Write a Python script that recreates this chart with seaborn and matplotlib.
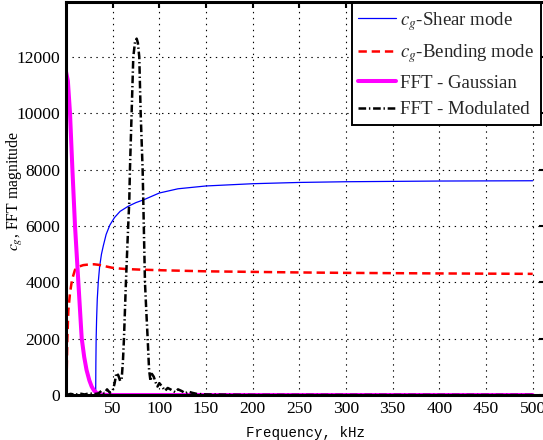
import matplotlib
matplotlib.use("Agg")
import matplotlib.pyplot as plt
import seaborn as sns

# ---- data ----
shear_f = [0, 31.8, 32.0, 32.3, 32.8, 33.5, 34.6, 36, 38, 40, 43, 47, 52, 58, 66.7,
           75, 82.8, 100, 120, 150, 200, 250, 300, 400, 500]
shear_cg = [0, 0, 1100, 2000, 2700, 3400, 4020, 4550, 5000, 5300, 5700, 6035, 6300,
            6520, 6700, 6830, 6923, 7170, 7320, 7420, 7500, 7545, 7570, 7595, 7605]

bend_f = [0, 0.5, 1.4, 2.5, 4.3, 6.5, 9.6, 13, 18.5, 25, 30, 35, 42, 49, 57, 65, 80,
          100, 125, 150, 200, 250, 300, 400, 500]
bend_cg = [0, 300, 1950, 3000, 3620, 4100, 4440, 4550, 4610, 4635, 4640, 4620, 4570,
           4520, 4490, 4470, 4450, 4430, 4410, 4390, 4370, 4350, 4335, 4315, 4300]

gauss_f = [0, 2, 4.3, 6.8, 9.6, 13.2, 16.8, 19.5, 22, 25, 27.5, 30, 33, 37, 45, 60,
           100, 200, 300, 400, 500]
gauss_mag = [11480, 11150, 10000, 8050, 6035, 4020, 2020, 1350, 890, 520, 300, 160, 70,
             20, 0, 0, 0, 0, 0, 0, 0]

mod_f = [0, 5, 10, 15, 20, 25, 30, 35, 38, 41, 44, 47, 50, 52, 54, 56, 58, 59.6, 61,
         62.1, 64.2, 66, 67.8, 68.5, 70.3, 72.1, 74, 75.7, 77, 78.5, 80, 82.1, 82.8,
         84.6, 86, 87.5, 89, 90.5, 92, 94, 96, 98, 100, 103, 106, 109, 113, 117, 120,
         124, 128, 131, 135, 140, 150, 170, 200, 300, 500]
mod_mag = [0, 40, 10, 50, 20, 60, 30, 60, 150, 60, 200, 80, 150, 400, 780, 700, 500,
           550, 1200, 2000, 4000, 5500, 6900, 8000, 10000, 12000, 12550, 12650, 12500,
           12000, 10000, 8000, 6900, 4000, 3000, 2000, 900, 500, 750, 650, 450, 300,
           420, 300, 150, 250, 180, 100, 200, 140, 60, 120, 80, 40, 20, 10, 0, 0, 0]

x_ticks = [50, 100, 150, 200, 250, 300, 350, 400, 450, 500]
y_ticks = [0, 2000, 4000, 6000, 8000, 10000, 12000]
legend_labels = ["$c_g$-Shear mode", "$c_g$-Bending mode", "FFT - Gaussian",
                 "FFT - Modulated"]

# ---- styling ----
sns.set_theme(style="white")
plt.rcParams['font.family'] = ['Liberation Serif', 'DejaVu Serif']
plt.rcParams['mathtext.fontset'] = 'stix'
plt.rcParams['lines.scale_dashes'] = False

W, H = 543, 440
fig = plt.figure(figsize=(W / 100, H / 100), dpi=100)
ax = fig.add_axes([66 / W, 45 / H, 479 / W, 393 / H])

sns.lineplot(x=shear_f, y=shear_cg, ax=ax, color=(0, 0, 1), linewidth=0.9,
             sort=False, estimator=None)
sns.lineplot(x=bend_f, y=bend_cg, ax=ax, color=(1, 0, 0), linewidth=1.8,
             sort=False, estimator=None)
ax.lines[-1].set_dashes([6.0, 3.5])
sns.lineplot(x=gauss_f, y=gauss_mag, ax=ax, color=(1, 0, 1), linewidth=2.9,
             sort=False, estimator=None)
sns.lineplot(x=mod_f, y=mod_mag, ax=ax, color='black', linewidth=1.8,
             sort=False, estimator=None)
ax.lines[-1].set_dashes([5.5, 2.0, 1.0, 2.0])

ax.set_xlim(0, 513.2)
ax.set_ylim(0, 13950)
ax.set_xticks(x_ticks)
ax.set_yticks(y_ticks)
ax.set_xticklabels([str(v) for v in x_ticks])
ax.set_yticklabels([str(v) for v in y_ticks])

ax.set_axisbelow(True)
ax.grid(True, color='black', linewidth=0.8, linestyle=(0, (1.0, 3.3)))
ax.tick_params(direction='in', length=4, width=1.5, top=True, right=True,
               labelsize=12.6, pad=4, colors='black')
for s in ax.spines.values():
    s.set_visible(True)
    s.set_linewidth(2.2)
    s.set_color('black')

ax.set_xlabel("Frequency, kHz", family=['Liberation Mono', 'DejaVu Sans Mono'],
              fontsize=10.2, labelpad=6.5, color='black')
ax.set_ylabel("$c_g$, FFT magnitude", fontsize=11.3, color='black')
ax.yaxis.set_label_coords(-0.086, 0.52)

leg = ax.legend(handles=ax.lines[:4], labels=legend_labels, loc='upper right',
                bbox_to_anchor=(541 / W, 1 - 3 / H), bbox_transform=fig.transFigure,
                borderaxespad=0, fontsize=13.6, frameon=True, fancybox=False,
                framealpha=1, edgecolor='black', handlelength=2.0,
                handletextpad=0.22, labelspacing=0.5, borderpad=0.35)
leg.get_frame().set_linewidth(1.4)

fig.savefig("out.png", dpi=100)
